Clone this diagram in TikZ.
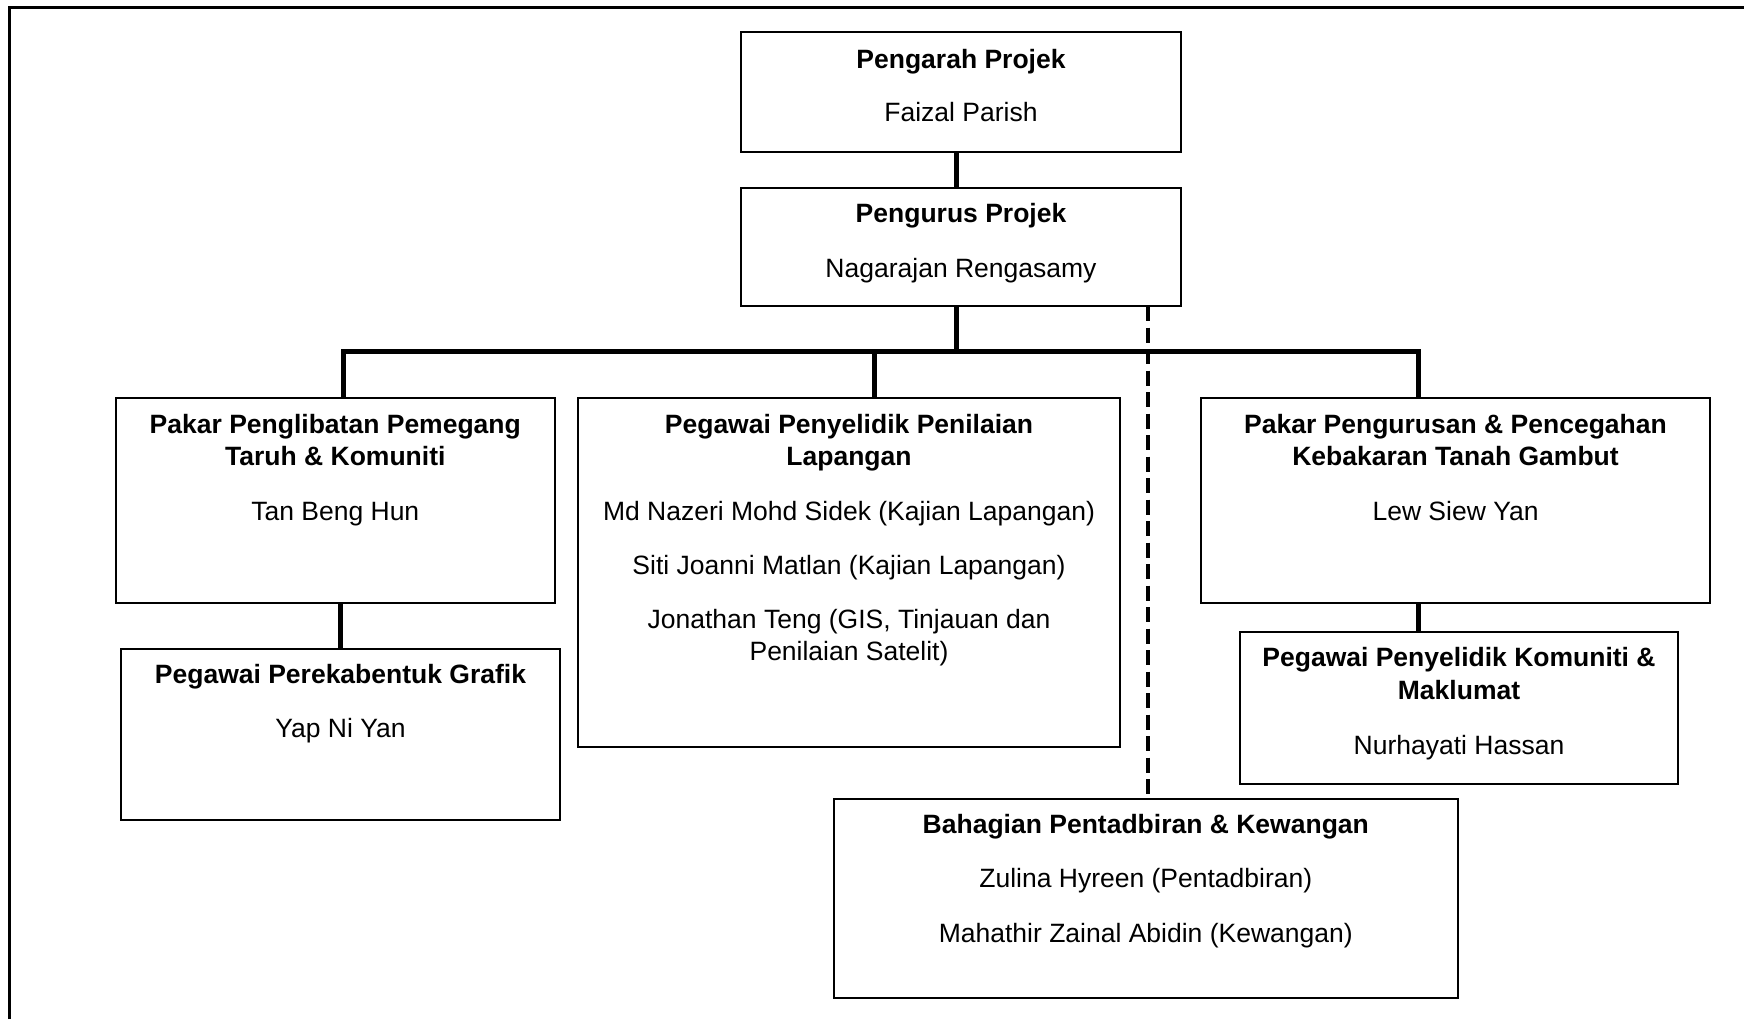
\documentclass[tikz,border=0pt]{standalone}
\usepackage{fontspec}
\setmainfont{Liberation Sans}
\begin{document}
\begin{tikzpicture}[x=0.5pt,y=-0.5pt,
  box/.style={draw=black, line width=1pt, inner sep=0pt, outer sep=0pt, rectangle},
  ttl/.style={anchor=base, inner sep=0pt, font=\fontsize{13.25}{16}\selectfont\bfseries},
  txt/.style={anchor=base, inner sep=0pt, font=\fontsize{13.25}{16}\selectfont},
  conn/.style={line width=2.5pt, line join=miter, line cap=butt},
  dsh/.style={line width=2.3pt, dash pattern=on 7.5pt off 3.25pt},
  frame/.style={line width=1.5pt, line join=miter}]
\useasboundingbox (0,0) rectangle (1744,1019);
\fill[white] (0,0) rectangle (1744,1019);
\draw[frame] (9.6,1019) -- (9.6,7) -- (1744,7);

% boxes
\node[box, minimum width=220pt, minimum height=60pt] (pd) at (961,92) {};
\node[box, minimum width=220pt, minimum height=59pt] (pm) at (961,247) {};
\node[box, minimum width=219.7pt, minimum height=102.5pt] (A) at (335.3,500.5) {};
\node[box, minimum width=271pt, minimum height=174.25pt] (B) at (849,572.25) {};
\node[box, minimum width=254.5pt, minimum height=102.5pt] (C) at (1455.5,500.5) {};
\node[box, minimum width=219.5pt, minimum height=85.5pt] (D) at (340.5,734.5) {};
\node[box, minimum width=219pt, minimum height=76pt] (E) at (1459,708) {};
\node[box, minimum width=311.8pt, minimum height=99.5pt] (F) at (1145.8,898.5) {};

% texts
\node[ttl] (pd1) at (961,68) {Pengarah Projek};
\node[txt] (pd2) at (961,121.5) {Faizal Parish};
\node[ttl] (pm1) at (961,222.7) {Pengurus Projek};
\node[txt] (pm2) at (961,277.5) {Nagarajan Rengasamy};

\node[ttl] (A1) at (335.3,433.3) {Pakar Penglibatan Pemegang};
\node[ttl] (A2) at (335.3,465.3) {Taruh \& Komuniti};
\node[txt] (A3) at (335.3,520.7) {Tan Beng Hun};

\node[ttl] (B1) at (849,433.3) {Pegawai Penyelidik Penilaian};
\node[ttl] (B2) at (849,465.3) {Lapangan};
\node[txt] (B3) at (849,520.5) {Md Nazeri Mohd Sidek (Kajian Lapangan)};
\node[txt] (B4) at (849,574.8) {Siti Joanni Matlan (Kajian Lapangan)};
\node[txt] (B5) at (849,628.8) {Jonathan Teng (GIS, Tinjauan dan};
\node[txt] (B6) at (849,660.8) {Penilaian Satelit)};

\node[ttl] (C1) at (1455.5,433.3) {Pakar Pengurusan \& Pencegahan};
\node[ttl] (C2) at (1455.5,465.5) {Kebakaran Tanah Gambut};
\node[txt] (C3) at (1455.5,520.7) {Lew Siew Yan};

\node[ttl] (D1) at (340.5,683.3) {Pegawai Perekabentuk Grafik};
\node[txt] (D2) at (340.5,737) {Yap Ni Yan};

\node[ttl] (E1) at (1459,666.7) {Pegawai Penyelidik Komuniti \&};
\node[ttl] (E2) at (1459,699.3) {Maklumat};
\node[txt] (E3) at (1459,754) {Nurhayati Hassan};

\node[ttl] (F1) at (1145.8,833.3) {Bahagian Pentadbiran \& Kewangan};
\node[txt] (F2) at (1145.8,887.3) {Zulina Hyreen (Pentadbiran)};
\node[txt] (F3) at (1145.8,942.7) {Mahathir Zainal Abidin (Kewangan)};

% connectors
\coordinate (busM) at (956,351);
\coordinate (busL) at (343,351);
\coordinate (busR) at (1418,351);
\coordinate (busB) at (874,351);
\coordinate (lowA) at (340,0);
\coordinate (dx) at (1148,0);
\draw[conn] (pd.south -| busM) -- (pm.north -| busM);
\draw[conn] (pm.south -| busM) -- (busM);
\draw[conn] (A.north -| busL) -- (busL) -- (busR) -- (C.north -| busR);
\draw[conn] (busB) -- (B.north -| busB);
\draw[conn] (A.south -| lowA) -- (D.north -| lowA);
\draw[conn] (C.south -| busR) -- (E.north -| busR);
\draw[dsh] (pm.south -| dx) -- (F.north -| dx);
\end{tikzpicture}
\end{document}
